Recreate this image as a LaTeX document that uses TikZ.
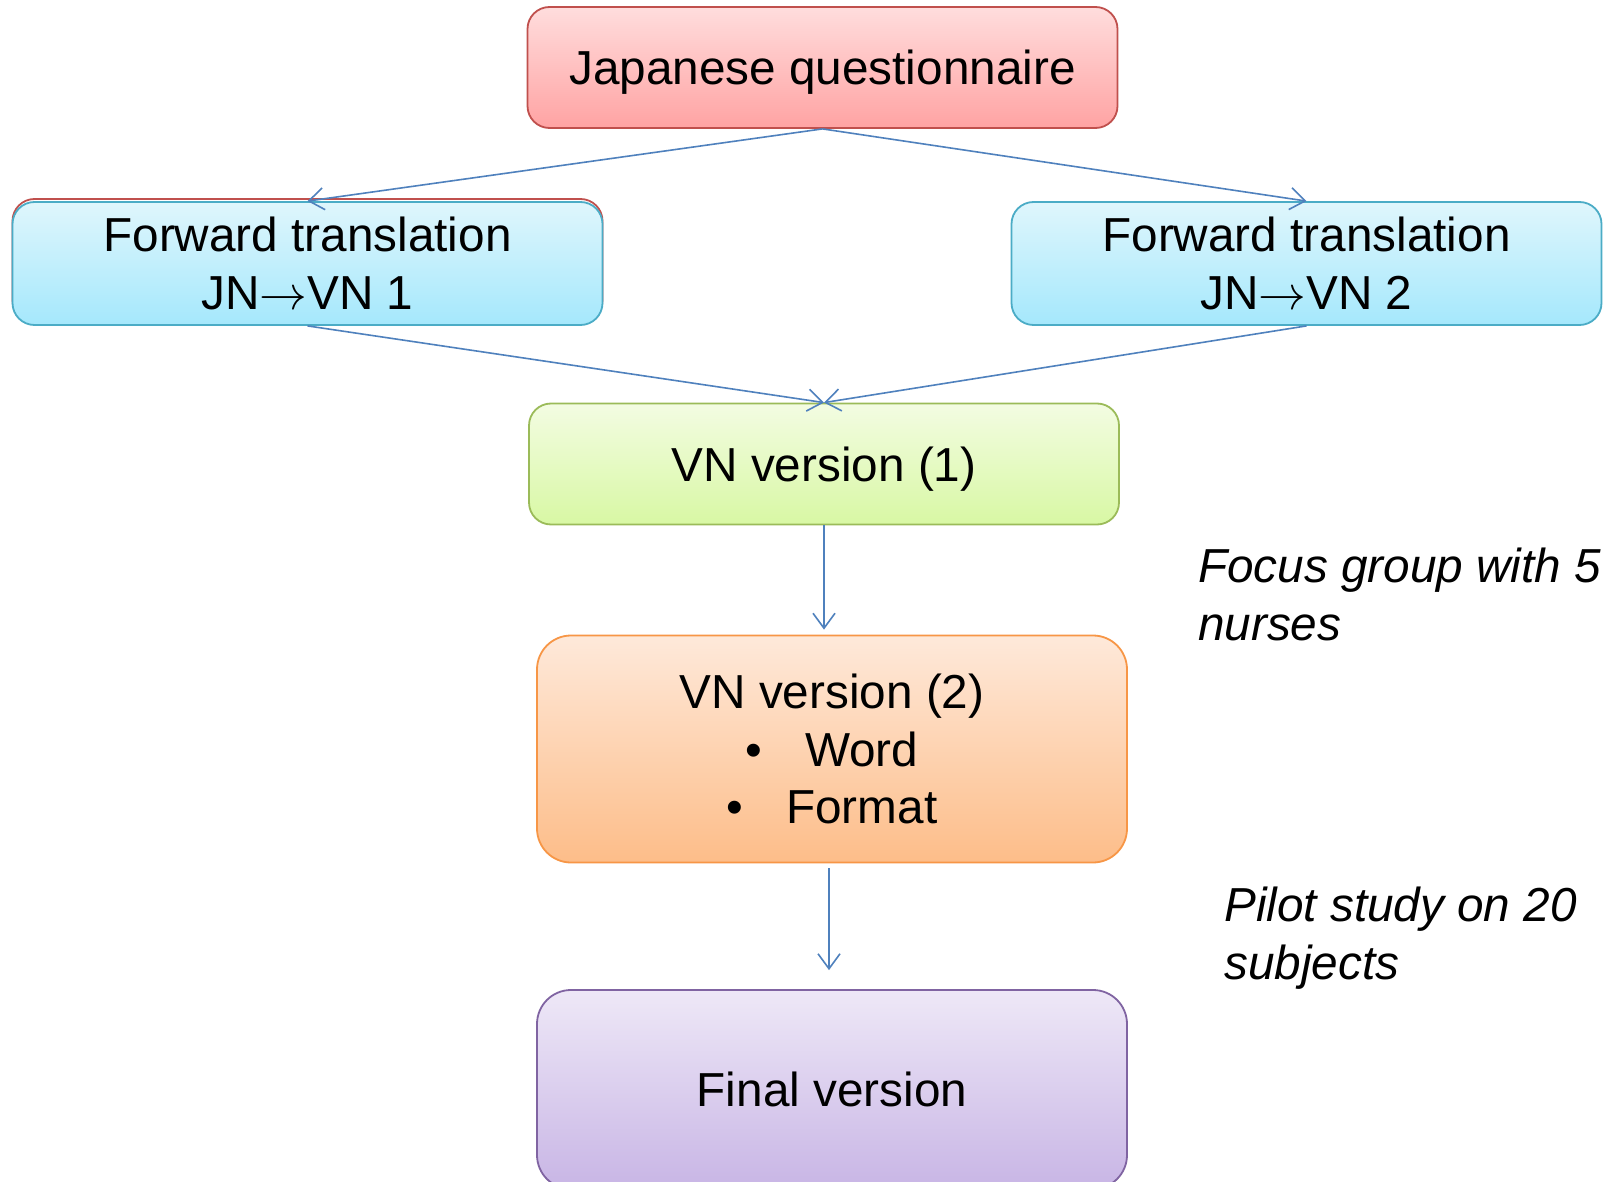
\RequirePackage{fix-cm}
\documentclass[tikz,border=0pt]{standalone}
\usepackage{fontspec}
\setmainfont{Liberation Sans}
\usetikzlibrary{positioning,arrows.meta}
\definecolor{redline}{HTML}{C0504D}
\definecolor{redtop}{HTML}{FFDDDD}
\definecolor{redbot}{HTML}{FFA3A3}
\definecolor{blueline}{HTML}{4BACC6}
\definecolor{bluetop}{HTML}{DFF6FC}
\definecolor{bluebot}{HTML}{A5E8FC}
\definecolor{greenline}{HTML}{9BBB59}
\definecolor{greentop}{HTML}{F3FCE2}
\definecolor{greenbot}{HTML}{D8F8A4}
\definecolor{orangeline}{HTML}{F79646}
\definecolor{orangetop}{HTML}{FEE9DA}
\definecolor{orangebot}{HTML}{FDBD89}
\definecolor{purpleline}{HTML}{8064A2}
\definecolor{purpletop}{HTML}{EEE8F7}
\definecolor{purplebot}{HTML}{C8B5E5}
\definecolor{arrowblue}{HTML}{4F81BD}
\newcommand{\boxfont}[0]{\fontsize{47.7}{57.5}\selectfont}
\newcommand{\jnvn}[0]{JN${\rightarrow}$VN}
\tikzset{
  box/.style={rounded corners=22pt, line width=1.8pt, minimum width=590pt, minimum height=121pt, align=center, inner sep=0pt},
  flow/.style={draw=arrowblue, line width=1.6pt, -{Straight Barb[length=15pt,width=22pt]}},
  note/.style={anchor=west, align=left, inner sep=0pt, font=\boxfont\itshape}
}

\begin{document}
\begin{tikzpicture}[x=1pt, y=-1pt, font=\boxfont]
      \clip (0,0) rectangle (1610,1182);
      \fill[white] (0,0) rectangle (1610,1182);
      \node(jq) [box, draw=redline, top color=redtop, bottom color=redbot, text depth=0pt] at (822.5,67.5) {Japanese questionnaire};
      \node(ftoneback) [box, draw=redline, fill=white, minimum height=123pt] at (307.5,260.5) {};
      \node(ftone) [box, draw=blueline, top color=bluetop, bottom color=bluebot, minimum height=123pt] at (307.5,263.5) {Forward translation\\\jnvn{} 1};
      \node(fttwo) [box, draw=blueline, top color=bluetop, bottom color=bluebot, minimum height=123pt] at (1306.5,263.5) {Forward translation\\\jnvn{} 2};
      \node(vnone) [box, draw=greenline, top color=greentop, bottom color=greenbot, text depth=0pt] at (824,464) {VN version (1)};
      \node(vntwo) [box, draw=orangeline, top color=orangetop, bottom color=orangebot, minimum height=227pt, rounded corners=34pt] at (832,749) {VN version (2)\\\textbullet\hspace{0.9em}Word\\\textbullet\hspace{0.9em}Format};
      \node(final) [box, draw=purpleline, top color=purpletop, bottom color=purplebot, minimum height=199pt, rounded corners=34pt] at (832,1089.5) {Final version};
      \node(focus) [note] at (1198,594.5) {Focus group with 5\\nurses};
      \node(pilot) [note] at (1224,938) {Pilot study on 20\\subjects};

      \draw[flow] (jq.south) -- (ftone.north);
      \draw[flow] (jq.south) -- (fttwo.north);
      \draw[flow] (ftone.south) -- (vnone.north);
      \draw[flow] (fttwo.south) -- (vnone.north);
      \draw[flow, shorten >=5pt] (vnone.south) -- (vnone.south |- vntwo.north);
      \draw[flow, shorten <=5pt, shorten >=19pt] ([xshift=-3pt]vntwo.south) -- ([xshift=-3pt]final.north);
    \end{tikzpicture}
\end{document}
